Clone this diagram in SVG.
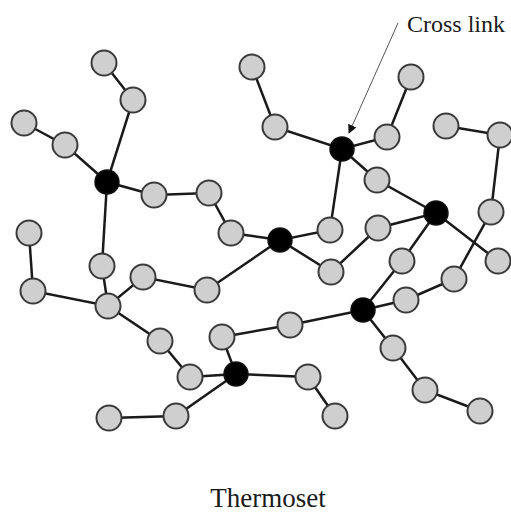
<svg xmlns="http://www.w3.org/2000/svg" width="511" height="515" viewBox="0 0 511 515">
<defs>
<style>
.e{stroke:#1a1a1a;stroke-width:2.5;fill:none}
.g{fill:#cfcfcf;stroke:#3a3a3a;stroke-width:2}
.b{fill:#000;stroke:#111;stroke-width:1.5}
.t{font-family:"Liberation Serif","Times New Roman",serif;fill:#1a1a1a}
</style>
<marker id="ah" viewBox="0 0 10 10" refX="9" refY="5" markerWidth="9" markerHeight="9" markerUnits="userSpaceOnUse" orient="auto">
<path d="M0,0 L10,5 L0,10 z" fill="#111"/>
</marker>
</defs>
<rect width="511" height="515" fill="#fff"/>
<g id="connectors">
<path class="e" d="M104,63L133,100L107,182M24,123L65,145L107,182L154,195L209,193L231,233L280,240M107,182L102,266L108,306M29,233L33,291L108,306L143,277L207,290L280,240M108,306L160,341L190,377L236,374L222,337L290,325L363,310M236,374L176,416L109,418M236,374L308,377L335,416M252,67L275,127L342,149L387,137L411,77M342,149L377,180L436,213M342,149L330,230L280,240L331,272L378,228L436,213L402,261L363,310M436,213L498,261M446,126L500,135L491,212L454,279L406,300L363,310L393,348L425,390L480,411"/>
<line x1="398" y1="23" x2="349" y2="133" stroke="#555" stroke-width="1" marker-end="url(#ah)"/>
</g>
<g id="n1"><circle class="g" cx="104" cy="63" r="12.5"/></g>
<g id="n2"><circle class="g" cx="133" cy="100" r="12.5"/></g>
<g id="n3"><circle class="g" cx="24" cy="123" r="12.5"/></g>
<g id="n4"><circle class="g" cx="65" cy="145" r="12.5"/></g>
<g id="n5"><circle class="g" cx="154" cy="195" r="12.5"/></g>
<g id="n6"><circle class="g" cx="209" cy="193" r="12.5"/></g>
<g id="n7"><circle class="g" cx="231" cy="233" r="12.5"/></g>
<g id="n8"><circle class="g" cx="29" cy="233" r="12.5"/></g>
<g id="n9"><circle class="g" cx="33" cy="291" r="12.5"/></g>
<g id="n10"><circle class="g" cx="102" cy="266" r="12.5"/></g>
<g id="n11"><circle class="g" cx="108" cy="306" r="12.5"/></g>
<g id="n12"><circle class="g" cx="143" cy="277" r="12.5"/></g>
<g id="n13"><circle class="g" cx="207" cy="290" r="12.5"/></g>
<g id="n14"><circle class="g" cx="160" cy="341" r="12.5"/></g>
<g id="n15"><circle class="g" cx="190" cy="377" r="12.5"/></g>
<g id="n16"><circle class="g" cx="222" cy="337" r="12.5"/></g>
<g id="n17"><circle class="g" cx="176" cy="416" r="12.5"/></g>
<g id="n18"><circle class="g" cx="109" cy="418" r="12.5"/></g>
<g id="n19"><circle class="g" cx="252" cy="67" r="12.5"/></g>
<g id="n20"><circle class="g" cx="275" cy="127" r="12.5"/></g>
<g id="n21"><circle class="g" cx="411" cy="77" r="12.5"/></g>
<g id="n22"><circle class="g" cx="387" cy="137" r="12.5"/></g>
<g id="n23"><circle class="g" cx="377" cy="180" r="12.5"/></g>
<g id="n24"><circle class="g" cx="446" cy="126" r="12.5"/></g>
<g id="n25"><circle class="g" cx="500" cy="135" r="12.5"/></g>
<g id="n26"><circle class="g" cx="491" cy="212" r="12.5"/></g>
<g id="n27"><circle class="g" cx="498" cy="261" r="12.5"/></g>
<g id="n28"><circle class="g" cx="330" cy="230" r="12.5"/></g>
<g id="n29"><circle class="g" cx="331" cy="272" r="12.5"/></g>
<g id="n30"><circle class="g" cx="378" cy="228" r="12.5"/></g>
<g id="n31"><circle class="g" cx="402" cy="261" r="12.5"/></g>
<g id="n32"><circle class="g" cx="454" cy="279" r="12.5"/></g>
<g id="n33"><circle class="g" cx="406" cy="300" r="12.5"/></g>
<g id="n34"><circle class="g" cx="290" cy="325" r="12.5"/></g>
<g id="n35"><circle class="g" cx="393" cy="348" r="12.5"/></g>
<g id="n36"><circle class="g" cx="425" cy="390" r="12.5"/></g>
<g id="n37"><circle class="g" cx="480" cy="411" r="12.5"/></g>
<g id="n38"><circle class="g" cx="308" cy="377" r="12.5"/></g>
<g id="n39"><circle class="g" cx="335" cy="416" r="12.5"/></g>
<g id="x1"><circle class="b" cx="107" cy="182" r="12"/></g>
<g id="x2"><circle class="b" cx="342" cy="149" r="12"/></g>
<g id="x3"><circle class="b" cx="436" cy="213" r="12"/></g>
<g id="x4"><circle class="b" cx="280" cy="240" r="12"/></g>
<g id="x5"><circle class="b" cx="363" cy="310" r="12"/></g>
<g id="x6"><circle class="b" cx="236" cy="374" r="12"/></g>
<g id="label-crosslink"><text class="t" x="407" y="32" font-size="24">Cross link</text></g>
<g id="label-title"><text class="t" x="268" y="507" font-size="27" text-anchor="middle">Thermoset</text></g>
</svg>
